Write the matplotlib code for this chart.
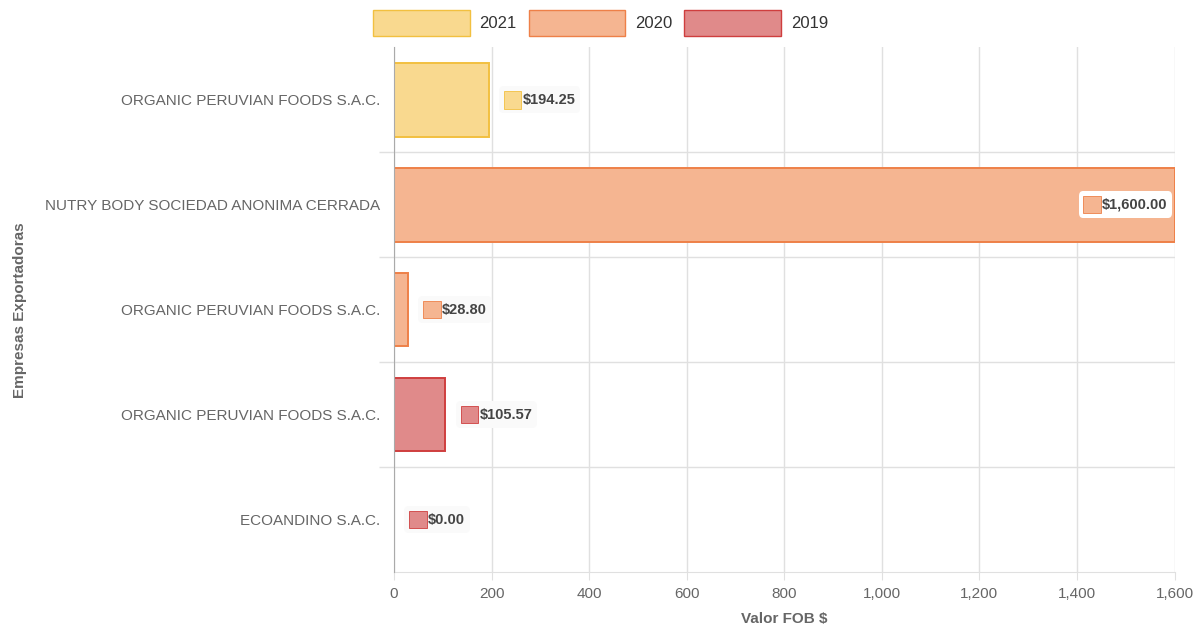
import matplotlib
matplotlib.use("Agg")
import matplotlib.pyplot as plt
from matplotlib.patches import Patch, Rectangle
from matplotlib.offsetbox import AnnotationBbox, HPacker, TextArea, DrawingArea

plt.rcParams['font.family'] = ['Liberation Sans', 'DejaVu Sans']

# data
empresas = ["ORGANIC PERUVIAN FOODS S.A.C.",
            "NUTRY BODY SOCIEDAD ANONIMA CERRADA",
            "ORGANIC PERUVIAN FOODS S.A.C.",
            "ORGANIC PERUVIAN FOODS S.A.C.",
            "ECOANDINO S.A.C."]
valores = [194.25, 1600.00, 28.80, 105.57, 0.00]
anios = ["2021", "2020", "2020", "2019", "2019"]

years = ["2021", "2020", "2019"]
fill = {"2021": "#f9d98f", "2020": "#f5b591", "2019": "#e08a8a"}
edge = {"2021": "#f2c040", "2020": "#ee8048", "2019": "#cf3e3e"}

xticks = [0, 200, 400, 600, 800, 1000, 1200, 1400, 1600]

fig = plt.figure(figsize=(12.01, 6.29), dpi=100)
ax = fig.add_axes([0.328, 0.0906, 0.650, 0.834])

pos = list(range(len(empresas)))
ax.barh(pos, valores, height=0.7,
        color=[fill[a] for a in anios],
        edgecolor=[edge[a] for a in anios],
        linewidth=[1.4 if v > 0 else 0 for v in valores], zorder=3)

ax.set_xlim(0, 1600)
ax.set_ylim(len(empresas) - 0.5, -0.5)
ax.set_xticks(xticks)
ax.set_xticklabels([f"{v:,}" for v in xticks])
ax.set_yticks(pos)
ax.set_yticklabels(empresas)
ax.set_yticks([p + 0.5 for p in pos[:-1]], minor=True)

ax.tick_params(axis="y", which="major", length=0, pad=10, labelsize=11, labelcolor="#666666")
ax.tick_params(axis="y", which="minor", length=11, color="#e0e0e0", width=1)
ax.tick_params(axis="x", length=6, color="#e0e0e0", labelsize=11, labelcolor="#666666", pad=5)

ax.grid(axis="x", color="#e0e0e0", linewidth=1, zorder=0)
ax.grid(axis="y", which="minor", color="#e0e0e0", linewidth=1, zorder=0)
for s in ["top", "right"]:
    ax.spines[s].set_visible(False)
ax.spines["bottom"].set_color("#e0e0e0")
ax.spines["left"].set_color("#aaaaaa")
ax.spines["left"].set_zorder(4)

ax.set_xlabel("Valor FOB $", fontsize=11, fontweight="bold", color="#666666", labelpad=8)
ax.set_ylabel("Empresas Exportadoras", fontsize=11, fontweight="bold", color="#666666")
ax.yaxis.set_label_coords(-0.47, 0.5)

# value labels
for p, v, a in zip(pos, valores, anios):
    da = DrawingArea(12.5, 12.5, 0, 0)
    da.add_artist(Rectangle((0, 0), 12.5, 12.5, facecolor=fill[a], edgecolor=edge[a], linewidth=0.6))
    ta = TextArea(f"${v:,.2f}", textprops=dict(fontsize=10.5, fontweight="bold", color="#444444"))
    box = HPacker(children=[da, ta], align="center", pad=0, sep=1)
    inside = v > 1400
    ab = AnnotationBbox(box, (v, p), xybox=(-5 if inside else 11, 0),
                        xycoords="data", boxcoords="offset points",
                        box_alignment=(1, 0.5) if inside else (0, 0.5),
                        frameon=True, pad=0.35,
                        bboxprops=dict(boxstyle="round,pad=0.35", facecolor="#ffffff" if inside else "#fafafa",
                                       edgecolor="none"), zorder=5)
    ax.add_artist(ab)

handles = [Patch(facecolor=fill[y], edgecolor=edge[y], linewidth=1, label=y) for y in years]
fig.legend(handles=handles, loc="upper center", bbox_to_anchor=(0.5, 1.008), ncol=3, frameon=False,
           fontsize=12, handlelength=5.8, handleheight=2.0, columnspacing=0.7, handletextpad=0.6,
           labelcolor="#333333")

fig.savefig("out.png", dpi=100)
